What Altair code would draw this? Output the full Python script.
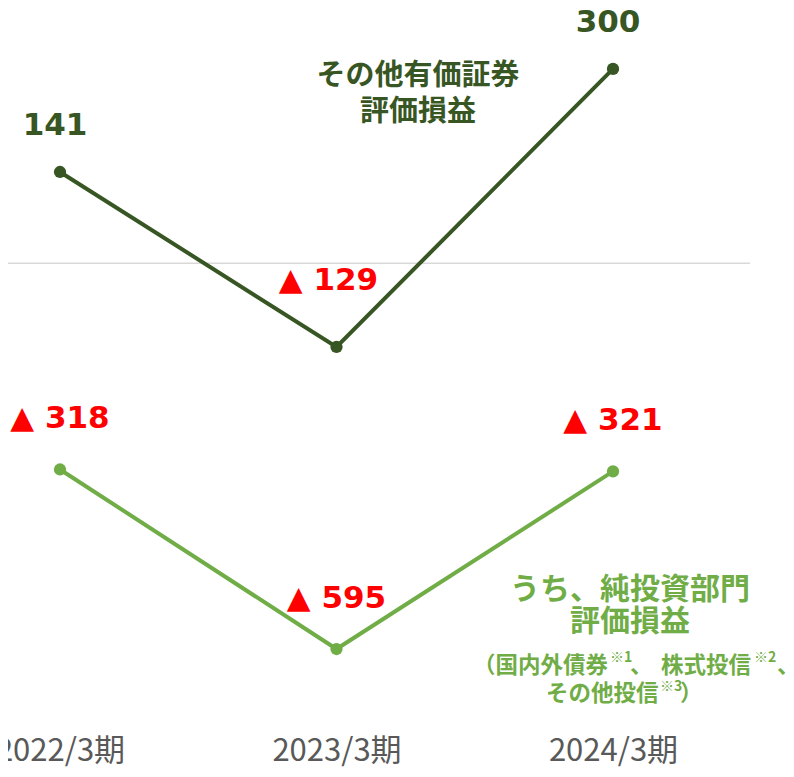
import json
import altair as alt
import pandas as pd

periods = ["2022/3期", "2023/3期", "2024/3期"]
other_securities = [141, -129, 300]
net_investment = [-318, -595, -321]
series_names = ["その他有価証券評価損益", "うち、純投資部門評価損益"]

DARK = "#375623"
LIGHT = "#70AD47"
RED = "#FF0000"
CJK = "Noto Sans CJK JP"
NUM = "DejaVu Sans"


def fmt(v):
    return f"▲ {abs(v)}" if v < 0 else f"{v}"


rows = []
for s, vals in zip(series_names, [other_securities, net_investment]):
    for i, (p, v) in enumerate(zip(periods, vals)):
        grp = "pos" if v >= 0 else ("special" if s == series_names[0] else "neg")
        rows.append({"idx": i, "period": p, "series": s, "value": v, "label": fmt(v), "grp": grp})
df = pd.DataFrame(rows)
df_pos = df[df["grp"] == "pos"]
df_neg = df[df["grp"] == "neg"]
df_special = df[df["grp"] == "special"]

W, H = 770, 700

x = alt.X(
    "idx:Q",
    scale=alt.Scale(domain=[-0.18807, 2.59674], nice=False, zero=False),
    axis=alt.Axis(
        title=None, domain=False, ticks=False, grid=False, labelAngle=0,
        values=[0, 1, 2],
        labelExpr=json.dumps(periods, ensure_ascii=False) + "[datum.value]",
        labelFontSize=31, labelColor="#595959", labelFont=CJK, labelPadding=28,
        labelFlush=False, labelOverlap=False,
    ),
)
y = alt.Y("value:Q", scale=alt.Scale(domain=[-686, 394], nice=False, zero=False), axis=None)
color = alt.Color("series:N", scale=alt.Scale(domain=series_names, range=[DARK, LIGHT]), legend=None)

base = alt.Chart(df)

zero = alt.Chart(pd.DataFrame({"value": [0]})).mark_rule(color="#D9D9D9", strokeWidth=1.5).encode(
    y=y, x=alt.value(0), x2=alt.value(742)
)

lines = base.mark_line(strokeWidth=4).encode(x=x, y=y, color=color, detail="series:N")
points = base.mark_circle(size=150, opacity=1).encode(x=x, y=y, color=color)

labels_pos = alt.Chart(df_pos).mark_text(
    font=NUM, fontWeight="bold", fontSize=31, dy=-46, dx=-5, baseline="middle", color=DARK
).encode(x=x, y=y, text="label:N")
labels_neg = alt.Chart(df_neg).mark_text(
    font=NUM, fontWeight="bold", fontSize=31, dy=-50, baseline="middle", color=RED
).encode(x=x, y=y, text="label:N")
labels_special = alt.Chart(df_special).mark_text(
    font=NUM, fontWeight="bold", fontSize=31, dy=-66, dx=-8, baseline="middle", color=RED
).encode(x=x, y=y, text="label:N")

dummy = pd.DataFrame({"a": [0]})


def note(text, px, py, size, col, align="center"):
    return alt.Chart(dummy).mark_text(
        text=text, font=CJK, fontWeight="bold", fontSize=size, color=col,
        align=align, baseline="middle",
    ).encode(x=alt.value(px), y=alt.value(py))


notes = [
    note("その他有価証券", 410, 68, 29, DARK),
    note("評価損益", 410, 104, 29, DARK),
    note("うち、純投資部門", 622, 582, 30, LIGHT),
    note("評価損益", 622, 614, 30, LIGHT),
    note("（国内外債券", 465, 658, 22.5, LIGHT, "left"),
    note("※1", 602, 650, 14, LIGHT, "left"),
    note("、", 622, 658, 22.5, LIGHT, "left"),
    note("株式投信", 653, 658, 22.5, LIGHT, "left"),
    note("※2", 746, 650, 14, LIGHT, "left"),
    note("、", 769, 658, 22.5, LIGHT, "left"),
    note("その他投信", 538, 686, 22.5, LIGHT, "left"),
    note("※3", 652, 679, 14, LIGHT, "left"),
    note("）", 672, 686, 22.5, LIGHT, "left"),
]

chart = alt.layer(zero, lines, points, labels_pos, labels_neg, labels_special, *notes).properties(
    width=W, height=H,
    autosize=alt.AutoSizeParams(type="none"),
    padding={"left": 0, "top": 0, "right": 8, "bottom": 60},
).configure_view(stroke=None)

chart.save("out.html", embed_options={"renderer": "svg", "actions": False})
